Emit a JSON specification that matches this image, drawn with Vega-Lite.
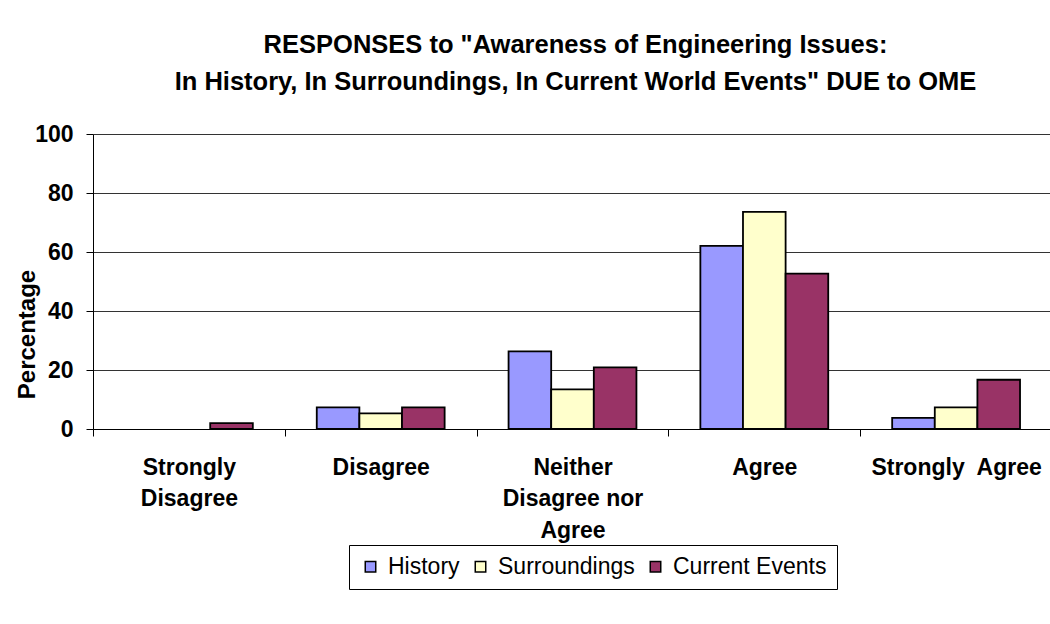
{
  "$schema": "https://vega.github.io/schema/vega-lite/v6.json",
  "width": 959,
  "height": 295,
  "autosize": {"type": "none"},
  "padding": {"left": 93, "top": 134, "right": 0, "bottom": 195},
  "background": "white",
  "title": {
    "text": ["RESPONSES to \"Awareness of Engineering Issues:", "In History, In Surroundings, In Current World Events\" DUE to OME"],
    "anchor": "middle",
    "frame": "group",
    "dx": 3,
    "offset": 28,
    "font": "Liberation Sans",
    "fontSize": 25.5,
    "fontWeight": "bold",
    "color": "black",
    "lineHeight": 37
  },
  "data": {
    "values": [
      {"response": "Strongly Disagree", "series": "History", "pct": 0},
      {"response": "Strongly Disagree", "series": "Surroundings", "pct": 0},
      {"response": "Strongly Disagree", "series": "Current Events", "pct": 2.0},
      {"response": "Disagree", "series": "History", "pct": 7.3},
      {"response": "Disagree", "series": "Surroundings", "pct": 5.3},
      {"response": "Disagree", "series": "Current Events", "pct": 7.3},
      {"response": "Neither Disagree nor Agree", "series": "History", "pct": 26.3},
      {"response": "Neither Disagree nor Agree", "series": "Surroundings", "pct": 13.4},
      {"response": "Neither Disagree nor Agree", "series": "Current Events", "pct": 20.9},
      {"response": "Agree", "series": "History", "pct": 62.1},
      {"response": "Agree", "series": "Surroundings", "pct": 73.6},
      {"response": "Agree", "series": "Current Events", "pct": 52.7},
      {"response": "Strongly Agree", "series": "History", "pct": 3.8},
      {"response": "Strongly Agree", "series": "Surroundings", "pct": 7.3},
      {"response": "Strongly Agree", "series": "Current Events", "pct": 16.7}
    ]
  },
  "mark": {"type": "bar", "stroke": "black", "strokeWidth": 1.8},
  "encoding": {
    "x": {
      "field": "response",
      "type": "nominal",
      "sort": ["Strongly Disagree", "Disagree", "Neither Disagree nor Agree", "Agree", "Strongly Agree"],
      "scale": {"paddingInner": 0, "paddingOuter": 0},
      "axis": {
        "title": null,
        "labelAngle": 0,
        "labelExpr": "datum.value == 'Strongly Disagree' ? ['Strongly', 'Disagree'] : datum.value == 'Neither Disagree nor Agree' ? ['Neither', 'Disagree nor', 'Agree'] : datum.value == 'Strongly Agree' ? 'Strongly\u00a0 Agree' : datum.value",
        "labelFont": "Liberation Sans",
        "labelFontSize": 23,
        "labelFontWeight": "bold",
        "labelColor": "black",
        "labelLineHeight": 31.5,
        "labelBaseline": "top",
        "labelPadding": 20,
        "labelLimit": 0,
        "labelOverlap": false,
        "labelBound": false,
        "labelFlush": false,
        "tickBand": "extent",
        "tickSize": 7,
        "tickColor": "black",
        "domainColor": "black",
        "domainWidth": 1,
        "grid": false
      }
    },
    "xOffset": {
      "field": "series",
      "type": "nominal",
      "sort": ["History", "Surroundings", "Current Events"],
      "scale": {"paddingInner": 0, "paddingOuter": 0.75}
    },
    "y": {
      "field": "pct",
      "type": "quantitative",
      "scale": {"domain": [0, 100], "nice": false},
      "axis": {
        "title": "Percentage",
        "values": [0, 20, 40, 60, 80, 100],
        "titleFont": "Liberation Sans",
        "titleFontSize": 24,
        "titleFontWeight": "bold",
        "titleColor": "black",
        "titleAngle": -90,
        "titleAlign": "center",
        "titleBaseline": "middle",
        "titleX": -66,
        "titleY": 200,
        "labelFont": "Liberation Sans",
        "labelFontSize": 23,
        "labelFontWeight": "bold",
        "labelColor": "black",
        "labelPadding": 13,
        "tickSize": 7,
        "tickColor": "black",
        "domainColor": "black",
        "grid": true,
        "gridColor": "#333333",
        "gridWidth": 1
      }
    },
    "strokeOpacity": {
      "condition": {"test": "datum.pct == 0", "value": 0},
      "value": 1
    },
    "color": {
      "field": "series",
      "type": "nominal",
      "scale": {
        "domain": ["History", "Surroundings", "Current Events"],
        "range": ["#9999FF", "#FFFFCC", "#993366"]
      },
      "legend": {
        "title": null,
        "orient": "none",
        "direction": "horizontal",
        "legendX": 256,
        "legendY": 411,
        "strokeColor": "black",
        "padding": 10,
        "symbolType": "square",
        "symbolSize": 110,
        "symbolStrokeColor": "black",
        "symbolStrokeWidth": 1.5,
        "symbolOpacity": 1,
        "labelFont": "Liberation Sans",
        "labelFontSize": 23,
        "labelColor": "black",
        "labelOffset": 6,
        "columnPadding": 9
      }
    }
  },
  "config": {
    "view": {"stroke": null}
  }
}
